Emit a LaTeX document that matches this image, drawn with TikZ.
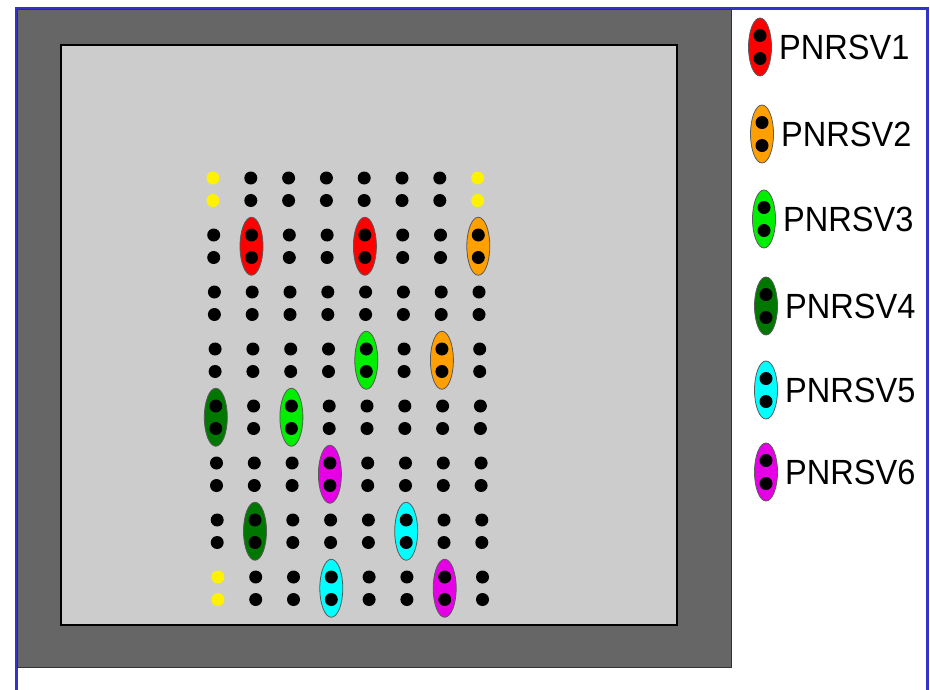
\documentclass[tikz,border=0pt]{standalone}
\usepackage{fontspec}
\setmainfont{Liberation Sans}
\definecolor{frameblue}{RGB}{51,51,204}
\definecolor{boxdark}{RGB}{102,102,102}
\definecolor{boxlight}{RGB}{204,204,204}
\definecolor{vOne}{RGB}{255,0,0}
\definecolor{vTwo}{RGB}{255,160,0}
\definecolor{vThree}{RGB}{0,238,0}
\definecolor{vFour}{RGB}{0,120,0}
\definecolor{vFive}{RGB}{0,255,255}
\definecolor{vSix}{RGB}{230,0,230}
\tikzset{
  pod/.style={draw=black!65, line width=0.8pt},
  legendtext/.style={anchor=west, inner sep=0pt, font=\fontsize{35}{35}\selectfont, xscale=0.93}
}
% one virus pod over the two holes of column c, row r
\newcommand{\virpod}[3]{%
  \filldraw[pod, fill=#3] (213+37.8*#1+0.7*#2, 189.25+57*#2) ellipse (11.5pt and 29pt);}
% one legend entry at height y
\newcommand{\keyentry}[4]{%
  \filldraw[pod, fill=#3] (#1,#2) ellipse (11.5pt and 29pt);
  \fill (#1,#2-11.5) circle (6.5pt);
  \fill (#1,#2+11.5) circle (6.5pt);
  \node[legendtext] (key#4) at (#1+19,#2) {PNRSV#4};}
\begin{document}
\begin{tikzpicture}[x=1pt, y=-1pt]
    \useasboundingbox (0,0) rectangle (930,689);
    \clip (0,0) rectangle (930,689);
    \fill[white] (0,0) rectangle (930,689);
    % frame and boxes
    \draw[frameblue, line width=3pt] (16,700) -- (16,8) -- (927,8) -- (927,700);
    \filldraw[fill=boxdark, draw=black!80, line width=1pt] (17.5,9.5) rectangle (731,667);
    \filldraw[fill=boxlight, draw=black, line width=1.2pt] (61,45) rectangle (677,625);
    % pods
    \virpod{1}{1}{vOne}
    \virpod{4}{1}{vOne}
    \virpod{7}{1}{vTwo}
    \virpod{6}{3}{vTwo}
    \virpod{4}{3}{vThree}
    \virpod{2}{4}{vThree}
    \virpod{0}{4}{vFour}
    \virpod{1}{6}{vFour}
    \virpod{5}{6}{vFive}
    \virpod{3}{7}{vFive}
    \virpod{3}{5}{vSix}
    \virpod{6}{7}{vSix}
    % holes
    \foreach \r in {0,...,7} {
      \foreach \c in {0,...,7} {
        \def\holecol{black}
        \ifnum\r=0 \ifnum\c=0 \def\holecol{yellow}\fi \ifnum\c=7 \def\holecol{yellow}\fi \fi
        \ifnum\r=7 \ifnum\c=0 \def\holecol{yellow}\fi \fi
        \fill[\holecol] (213+37.8*\c+0.7*\r, 178+57*\r) circle (6.5pt);
        \fill[\holecol] (213+37.8*\c+0.7*\r, 200.5+57*\r) circle (6.5pt);
      }
    }
    % legend
    \keyentry{760}{47}{vOne}{1}
    \keyentry{762}{134}{vTwo}{2}
    \keyentry{764}{219}{vThree}{3}
    \keyentry{766}{306}{vFour}{4}
    \keyentry{766}{390}{vFive}{5}
    \keyentry{766}{472}{vSix}{6}
\end{tikzpicture}
\end{document}
